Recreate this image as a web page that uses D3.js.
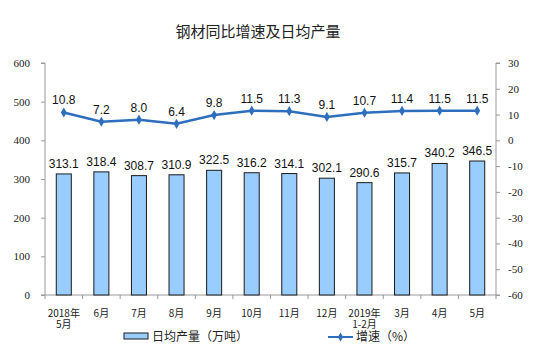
<!DOCTYPE html>
<html>
<head>
<meta charset="utf-8">
<script src="https://cdn.jsdelivr.net/npm/d3@7"></script>
<style>
  body { margin: 0; background: #fff; }
  svg { display: block; }
</style>
</head>
<body>
<div id="chart"></div>
<script>
const WIDTH = 546
const HEIGHT = 352

const categories = ['2018年\n5月', '6月', '7月', '8月', '9月', '10月', '11月', '12月', '2019年\n1-2月', '3月', '4月', '5月']
const output = [313.1, 318.4, 308.7, 310.9, 322.5, 316.2, 314.1, 302.1, 290.6, 315.7, 340.2, 346.5]
const growth = [10.8, 7.2, 8.0, 6.4, 9.8, 11.5, 11.3, 9.1, 10.7, 11.4, 11.5, 11.5]
const leftTicks = [0, 100, 200, 300, 400, 500, 600]
const rightTicks = [-60, -50, -40, -30, -20, -10, 0, 10, 20, 30]

const margin = { left: 45, right: 50, top: 63, bottom: 57 }
const plotBottom = HEIGHT - margin.bottom
const plotRight = WIDTH - margin.right

const svg = d3.select('#chart').append('svg')
  .attr('width', WIDTH)
  .attr('height', HEIGHT)

const x = d3.scaleBand().domain(categories).range([margin.left, plotRight]).paddingInner(0.6).paddingOuter(0.3)
const yLeft = d3.scaleLinear().domain([0, 600]).range([plotBottom, margin.top])
const yRight = d3.scaleLinear().domain([-60, 30]).range([plotBottom, margin.top])

// title
svg.append('text')
  .attr('x', 258).attr('y', 37)
  .attr('text-anchor', 'middle')
  .attr('font-family', '"Noto Sans CJK SC", sans-serif')
  .attr('font-size', 15)
  .attr('fill', '#222')
  .text('钢材同比增速及日均产量')

// axes
const axisColor = '#999'
const leftAxis = svg.append('g')
  .attr('transform', `translate(${margin.left},0)`)
  .call(d3.axisLeft(yLeft).tickValues(leftTicks).tickFormat(d => String(d)).tickSize(4).tickPadding(11))
const rightAxis = svg.append('g')
  .attr('transform', `translate(${plotRight},0)`)
  .call(d3.axisRight(yRight).tickValues(rightTicks).tickFormat(d => String(d)).tickSize(4).tickPadding(8))

;[leftAxis, rightAxis].forEach(g => {
  g.attr('font-family', '"Liberation Serif", "Times New Roman", serif')
  g.select('.domain').attr('stroke', axisColor)
  g.selectAll('.tick line').attr('stroke', axisColor)
  g.selectAll('.tick text')
    .attr('font-family', '"Liberation Serif", "Times New Roman", serif')
    .attr('font-size', 11)
    .attr('fill', '#222')
})
rightAxis.select('.domain').attr('d', `M4,${margin.top}H0V${plotBottom}H4`)
leftAxis.select('.domain').attr('d', `M-4,${margin.top}H0V${plotBottom}H-4`)

// bottom axis line with ticks between categories
const step = x.step()
const bottom = svg.append('g')
bottom.append('line')
  .attr('x1', margin.left).attr('x2', plotRight)
  .attr('y1', plotBottom).attr('y2', plotBottom)
  .attr('stroke', axisColor)
bottom.selectAll('line.tk')
  .data(d3.range(categories.length + 1))
  .join('line')
  .attr('class', 'tk')
  .attr('x1', i => margin.left + i * step)
  .attr('x2', i => margin.left + i * step)
  .attr('y1', plotBottom).attr('y2', plotBottom + 4)
  .attr('stroke', axisColor)

// category labels
const catLabels = svg.append('g')
categories.forEach(c => {
  const lines = c.split('\n')
  const t = catLabels.append('text')
    .attr('x', x(c) + x.bandwidth() / 2)
    .attr('y', 317)
    .attr('text-anchor', 'middle')
    .attr('font-family', '"Noto Sans CJK SC", sans-serif')
    .attr('font-size', 10)
    .attr('fill', '#222')
  lines.forEach((l, i) => {
    t.append('tspan')
      .attr('x', x(c) + x.bandwidth() / 2)
      .attr('dy', i === 0 ? 0 : 11)
      .text(l)
  })
})

// bars
svg.append('g').selectAll('rect')
  .data(output)
  .join('rect')
  .attr('x', (d, i) => x(categories[i]))
  .attr('y', d => yLeft(d))
  .attr('width', x.bandwidth())
  .attr('height', d => plotBottom - yLeft(d))
  .attr('fill', '#99ccff')
  .attr('stroke', '#1a1a1a')
  .attr('stroke-width', 1)

svg.append('g').selectAll('text')
  .data(output)
  .join('text')
  .attr('x', (d, i) => x(categories[i]) + x.bandwidth() / 2)
  .attr('y', d => yLeft(d) - 6)
  .attr('text-anchor', 'middle')
  .attr('font-family', '"Liberation Sans", Arial, sans-serif')
  .attr('font-size', 12)
  .attr('fill', '#111')
  .text(d => d.toFixed(1))

// line
const cx = i => x(categories[i]) + x.bandwidth() / 2
const line = d3.line().x((d, i) => cx(i)).y(d => yRight(d))
const lineColor = '#2e6fbd'
svg.append('path')
  .datum(growth)
  .attr('d', line)
  .attr('fill', 'none')
  .attr('stroke', lineColor)
  .attr('stroke-width', 2.5)

svg.append('g').selectAll('path')
  .data(growth)
  .join('path')
  .attr('transform', (d, i) => `translate(${cx(i)},${yRight(d)})`)
  .attr('d', d3.symbol(d3.symbolDiamond, 30))
  .attr('fill', lineColor)

svg.append('g').selectAll('text')
  .data(growth)
  .join('text')
  .attr('x', (d, i) => cx(i))
  .attr('y', d => yRight(d) - 8)
  .attr('text-anchor', 'middle')
  .attr('font-family', '"Liberation Sans", Arial, sans-serif')
  .attr('font-size', 12)
  .attr('fill', '#111')
  .text(d => d.toFixed(1))

// legend
const legend = svg.append('g').attr('font-family', '"Noto Sans CJK SC", sans-serif').attr('font-size', 12).attr('fill', '#222')
legend.append('rect')
  .attr('x', 124).attr('y', 333).attr('width', 24).attr('height', 6)
  .attr('fill', '#99ccff').attr('stroke', '#1a1a1a')
legend.append('text').attr('x', 152).attr('y', 341).text('日均产量（万吨）')
legend.append('line')
  .attr('x1', 328).attr('x2', 353).attr('y1', 337).attr('y2', 337)
  .attr('stroke', lineColor).attr('stroke-width', 2)
legend.append('path')
  .attr('transform', 'translate(340.5,337)')
  .attr('d', d3.symbol(d3.symbolDiamond, 24))
  .attr('fill', lineColor)
legend.append('text').attr('x', 356).attr('y', 341).text('增速（%）')
</script>
</body>
</html>
